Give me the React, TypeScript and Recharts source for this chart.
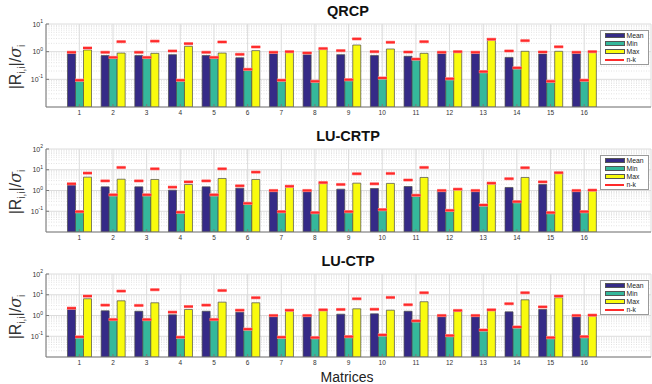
import React from 'react';
import { BarChart, Bar, XAxis, YAxis, CartesianGrid } from 'recharts';

const matrices = ['1', '2', '3', '4', '5', '6', '7', '8', '9', '10', '11', '12', '13', '14', '15', '16'];
const seriesNames = ['Mean', 'Min', 'Max', 'n-k'];

// QRCP
const qrcpMean = [0.87, 0.72, 0.72, 0.78, 0.72, 0.6, 0.89, 0.78, 0.78, 0.72, 0.68, 0.87, 0.92, 0.62, 0.82, 0.89];
const qrcpMin = [0.089, 0.59, 0.59, 0.089, 0.59, 0.22, 0.089, 0.08, 0.094, 0.108, 0.51, 0.1, 0.18, 0.25, 0.08, 0.089];
const qrcpMax = [1.15, 0.89, 0.87, 1.56, 0.89, 1.09, 0.95, 1.25, 1.74, 1.25, 0.87, 0.95, 2.65, 1.03, 1.03, 0.95];
const qrcpNkMean = [0.95, 0.95, 0.95, 1.06, 0.95, 0.8, 0.95, 0.9, 1.09, 1.0, 0.97, 0.95, 0.95, 1.06, 0.97, 0.95];
const qrcpNkMin = [0.093, 0.62, 0.62, 0.093, 0.62, 0.23, 0.093, 0.085, 0.097, 0.112, 0.54, 0.105, 0.19, 0.26, 0.085, 0.093];
const qrcpNkMax = [1.36, 2.3, 2.4, 1.95, 2.24, 1.48, 1.0, 1.3, 2.9, 2.18, 2.3, 1.0, 2.8, 2.5, 1.5, 1.0];

// LU-CRTP
const crtpMean = [1.88, 1.5, 1.5, 1.04, 1.5, 1.3, 0.93, 0.93, 1.16, 1.25, 1.56, 0.93, 0.93, 1.4, 1.95, 0.93];
const crtpMin = [0.089, 0.57, 0.57, 0.083, 0.57, 0.23, 0.089, 0.08, 0.089, 0.11, 0.55, 0.104, 0.19, 0.27, 0.08, 0.089];
const crtpMax = [4.4, 3.5, 3.4, 1.95, 3.8, 3.4, 1.5, 2.26, 2.26, 2.2, 4.25, 1.12, 2.1, 4.25, 6.9, 1.0];
const crtpNkMean = [2.1, 2.9, 2.9, 1.45, 2.9, 1.68, 1.0, 1.0, 1.95, 2.1, 3.2, 1.0, 1.0, 3.7, 2.6, 1.0];
const crtpNkMin = [0.096, 0.62, 0.62, 0.09, 0.62, 0.24, 0.096, 0.086, 0.096, 0.12, 0.59, 0.11, 0.2, 0.29, 0.086, 0.096];
const crtpNkMax = [6.9, 12.9, 11.1, 2.6, 11.1, 7.7, 1.6, 2.4, 6.4, 6.6, 12.9, 1.16, 2.26, 12.5, 7.2, 1.04];

// LU-CTP
const ctpMean = [2.1, 1.68, 1.6, 1.08, 1.6, 1.45, 0.93, 0.93, 1.16, 1.2, 1.6, 0.93, 0.93, 1.5, 1.95, 0.93];
const ctpMin = [0.09, 0.62, 0.62, 0.086, 0.62, 0.21, 0.086, 0.08, 0.09, 0.108, 0.51, 0.1, 0.19, 0.26, 0.08, 0.093];
const ctpMax = [6.4, 5.1, 4.1, 1.95, 4.4, 4.1, 1.75, 1.75, 2.1, 1.8, 4.6, 1.68, 1.8, 5.7, 7.2, 0.96];
const ctpNkMean = [2.26, 3.16, 3.05, 1.45, 3.16, 1.8, 1.0, 1.0, 1.95, 2.0, 3.3, 1.0, 1.0, 3.7, 2.6, 1.0];
const ctpNkMin = [0.093, 0.64, 0.64, 0.09, 0.64, 0.22, 0.09, 0.086, 0.096, 0.116, 0.55, 0.108, 0.2, 0.28, 0.086, 0.096];
const ctpNkMax = [8.6, 15, 17.5, 2.7, 16, 7.2, 1.8, 1.88, 6.4, 7.4, 12.5, 1.75, 1.88, 12.5, 8.6, 1.04];

const ticksQrcp = [0.1, 1, 10];
const ticksLu = [0.1, 1, 10, 100];
const minorQrcp = [0.02, 0.03, 0.04, 0.05, 0.06, 0.07, 0.08, 0.09, 0.2, 0.3, 0.4, 0.5, 0.6, 0.7, 0.8, 0.9, 2, 3, 4, 5, 6, 7, 8, 9];
const minorLu = [...minorQrcp, 20, 30, 40, 50, 60, 70, 80, 90];

const COLORS = { mean: '#352a87', min: '#35b89b', max: '#f9fb0e', nk: '#ff2a2a' };
const FONT = '"Liberation Sans", Arial, Helvetica, sans-serif';

function build(mean: number[], min: number[], max: number[], nkMean: number[], nkMin: number[], nkMax: number[]) {
  return matrices.map((name, i) => ({
    name,
    mean: mean[i],
    min: min[i],
    max: max[i],
    nkMean: nkMean[i],
    nkMin: nkMin[i],
    nkMax: nkMax[i],
  }));
}

const Dash = (props: any) => {
  const { x, y, width } = props;
  if (x == null || y == null) return null;
  return (
    <g>
      <rect x={x - 0.5} y={y - 1.6} width={width + 1} height={3.2} fill="#ff9a9a" />
      <rect x={x - 0.5} y={y - 1} width={width + 1} height={2} fill={COLORS.nk} />
    </g>
  );
};

const YTick = (props: any) => {
  const { x, y, payload } = props;
  const exp = Math.round(Math.log10(payload.value));
  return (
    <text x={x} y={y + 2.5} textAnchor="end" fontSize={7} fill="#333" fontFamily={FONT}>
      <tspan>10</tspan>
      <tspan dy={-3.5} fontSize={5}>{String(exp)}</tspan>
    </text>
  );
};

const XTick = (props: any) => {
  const { x, y, payload } = props;
  return (
    <text x={x} y={y + 5} textAnchor="middle" fontSize={6.5} fill="#333" fontFamily={FONT}>
      {payload.value}
    </text>
  );
};

const Empty = () => <g />;

const PAD = { left: 16.5, right: 50 };
const AXIS = '#7a7a7a';

function LegendBox() {
  const rows = [
    { name: seriesNames[0], color: COLORS.mean, line: false },
    { name: seriesNames[1], color: COLORS.min, line: false },
    { name: seriesNames[2], color: COLORS.max, line: false },
    { name: seriesNames[3], color: COLORS.nk, line: true },
  ];
  return (
    <div
      style={{
        position: 'absolute',
        left: 600,
        top: 30,
        width: 49,
        height: 35,
        border: '1px solid #9a9a9a',
        background: '#fff',
        boxSizing: 'border-box',
        paddingTop: 0.5,
      }}
    >
      {rows.map((r) => (
        <div key={r.name} style={{ position: 'relative', height: 8.1 }}>
          {r.line ? (
            <div style={{ position: 'absolute', left: 4, top: 3.5, width: 19, height: 1.3, background: r.color }} />
          ) : (
            <div
              style={{
                position: 'absolute',
                left: 4,
                top: 1.3,
                width: 20,
                height: 5.5,
                background: r.color,
                border: '0.8px solid #555',
                boxSizing: 'border-box',
              }}
            />
          )}
          <div
            style={{
              position: 'absolute',
              left: 25.5,
              top: 0,
              fontSize: 6.8,
              lineHeight: '8px',
              fontFamily: FONT,
              color: '#222',
              whiteSpace: 'nowrap',
            }}
          >
            {r.name}
          </div>
        </div>
      ))}
    </div>
  );
}

function YLabel() {
  return (
    <svg width={40} height={125} style={{ position: 'absolute', left: 0, top: 0 }}>
      <text
        transform="translate(21, 67) rotate(-90)"
        textAnchor="middle"
        fontSize={16}
        fill="#333"
        fontFamily={FONT}
      >
        <tspan>|R</tspan>
        <tspan dy={4} fontSize={10}>i,i</tspan>
        <tspan dy={-4}>|/</tspan>
        <tspan fontFamily='"DejaVu Serif", serif' fontStyle="italic">σ</tspan>
        <tspan dy={4} fontSize={10}>i</tspan>
      </text>
    </svg>
  );
}

function Panel(props: { title: string; top: number; data: any[]; domain: [number, number]; ticks: number[]; minor: number[] }) {
  const { title, top, data, domain, ticks, minor } = props;
  return (
    <div style={{ position: 'absolute', left: 0, top, width: 652, height: 125 }}>
      <div
        style={{
          position: 'absolute',
          left: 248,
          width: 200,
          top: 3,
          textAlign: 'center',
          fontFamily: FONT,
          fontWeight: 'bold',
          fontSize: 14.5,
          color: '#111',
        }}
      >
        {title}
      </div>
      <YLabel />
      <BarChart
        width={652}
        height={125}
        data={data}
        margin={{ top: 24, right: 1, bottom: 0, left: 0 }}
        barGap={0}
        barSize={8}
        style={{ position: 'absolute', left: 0, top: 0 }}
      >
        <CartesianGrid
          horizontalValues={minor}
          vertical={false}
          stroke="#e2e2e2"
          strokeDasharray="1 1.5"
          yAxisId="0"
        />
        <CartesianGrid stroke="#dcdcdc" yAxisId="0" />
        <XAxis
          dataKey="name"
          xAxisId="0"
          padding={PAD}
          height={18}
          tick={<XTick />}
          tickSize={-3}
          tickMargin={6}
          axisLine={{ stroke: AXIS }}
          tickLine={{ stroke: AXIS }}
          interval={0}
        />
        <XAxis
          dataKey="name"
          xAxisId="top"
          orientation="top"
          padding={PAD}
          height={0}
          tick={Empty}
          tickSize={-3}
          axisLine={{ stroke: AXIS }}
          tickLine={{ stroke: AXIS }}
          interval={0}
        />
        <XAxis dataKey="name" xAxisId="nk" padding={PAD} hide />
        <YAxis
          yAxisId="minorL"
          orientation="left"
          scale="log"
          domain={domain}
          allowDataOverflow
          ticks={minor}
          width={0}
          tick={Empty}
          tickSize={-1.8}
          axisLine={false}
          tickLine={{ stroke: AXIS }}
          interval={0}
        />
        <YAxis
          yAxisId="0"
          scale="log"
          domain={domain}
          allowDataOverflow
          ticks={ticks}
          width={46}
          tick={<YTick />}
          tickSize={-3}
          tickMargin={6}
          axisLine={{ stroke: AXIS }}
          tickLine={{ stroke: AXIS }}
          interval={0}
        />
        <YAxis
          yAxisId="right"
          orientation="right"
          scale="log"
          domain={domain}
          allowDataOverflow
          ticks={ticks}
          width={0}
          tick={Empty}
          tickSize={-3}
          axisLine={{ stroke: AXIS }}
          tickLine={{ stroke: AXIS }}
          interval={0}
        />
        <YAxis
          yAxisId="minorR"
          orientation="right"
          scale="log"
          domain={domain}
          allowDataOverflow
          ticks={minor}
          width={0}
          tick={Empty}
          tickSize={-1.8}
          axisLine={false}
          tickLine={{ stroke: AXIS }}
          interval={0}
        />
        <Bar dataKey="mean" xAxisId="0" yAxisId="0" fill={COLORS.mean} stroke="#4a4a4a" strokeWidth={0.7} isAnimationActive={false} />
        <Bar dataKey="min" xAxisId="0" yAxisId="0" fill={COLORS.min} stroke="#4a4a4a" strokeWidth={0.7} isAnimationActive={false} />
        <Bar dataKey="max" xAxisId="0" yAxisId="0" fill={COLORS.max} stroke="#4a4a4a" strokeWidth={0.7} isAnimationActive={false} />
        <Bar dataKey="nkMean" xAxisId="nk" yAxisId="0" shape={<Dash />} isAnimationActive={false} />
        <Bar dataKey="nkMin" xAxisId="nk" yAxisId="0" shape={<Dash />} isAnimationActive={false} />
        <Bar dataKey="nkMax" xAxisId="nk" yAxisId="0" shape={<Dash />} isAnimationActive={false} />
      </BarChart>
      <LegendBox />
    </div>
  );
}

export default function App() {
  return (
    <div style={{ position: 'absolute', left: 0, top: 0, width: 652, height: 384, background: '#fff', overflow: 'hidden' }}>
      <Panel title="QRCP" top={0} data={build(qrcpMean, qrcpMin, qrcpMax, qrcpNkMean, qrcpNkMin, qrcpNkMax)} domain={[0.01, 10]} ticks={ticksQrcp} minor={minorQrcp} />
      <Panel title="LU-CRTP" top={125} data={build(crtpMean, crtpMin, crtpMax, crtpNkMean, crtpNkMin, crtpNkMax)} domain={[0.01, 100]} ticks={ticksLu} minor={minorLu} />
      <Panel title="LU-CTP" top={250} data={build(ctpMean, ctpMin, ctpMax, ctpNkMean, ctpNkMin, ctpNkMax)} domain={[0.01, 100]} ticks={ticksLu} minor={minorLu} />
      <div
        style={{
          position: 'absolute',
          left: 297,
          width: 100,
          top: 369,
          textAlign: 'center',
          fontFamily: FONT,
          fontSize: 14,
          color: '#222',
        }}
      >
        Matrices
      </div>
    </div>
  );
}
